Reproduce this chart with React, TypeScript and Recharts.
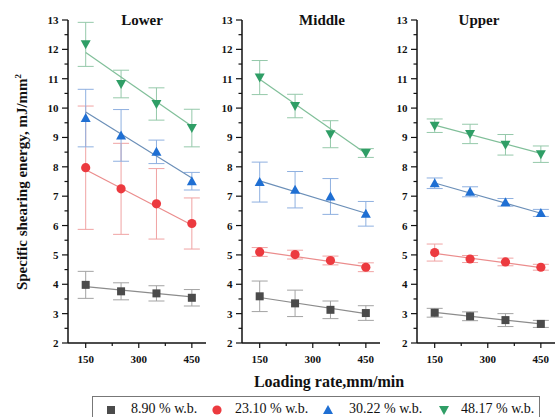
import React from "react";
import { ComposedChart, Scatter, XAxis, YAxis, ErrorBar } from "recharts";

const loadingRates = [150, 250, 350, 450];
const fitEnds = [150, 450];
const seriesNames = ["8.90 % w.b.", "23.10 % w.b.", "30.22 % w.b.", "48.17 % w.b."];
const panelTitles = ["Lower", "Middle", "Upper"];
const xTicks = [150, 225, 300, 375, 450];
const yTicks = [2, 2.5, 3, 3.5, 4, 4.5, 5, 5.5, 6, 6.5, 7, 7.5, 8, 8.5, 9, 9.5, 10, 10.5, 11, 11.5, 12, 12.5, 13];

// rows: 8.90, 23.10, 30.22, 48.17 % w.b.
const lowerMeans = [
  [3.98, 3.76, 3.69, 3.54],
  [7.97, 7.25, 6.74, 6.07],
  [9.66, 9.07, 8.51, 7.51],
  [12.17, 10.82, 10.14, 9.32],
];
const lowerErrors = [
  [0.46, 0.29, 0.26, 0.28],
  [2.1, 1.55, 1.2, 0.87],
  [0.98, 0.88, 0.4, 0.3],
  [0.75, 0.47, 0.55, 0.64],
];
const lowerFits = [
  [3.92, 3.57],
  [7.9, 6.02],
  [9.87, 7.62],
  [11.89, 9.38],
];

const middleMeans = [
  [3.59, 3.35, 3.13, 3.02],
  [5.1, 5.01, 4.81, 4.58],
  [7.48, 7.22, 6.99, 6.4],
  [11.04, 10.07, 9.11, 8.47],
];
const middleErrors = [
  [0.52, 0.45, 0.3, 0.25],
  [0.15, 0.15, 0.15, 0.15],
  [0.68, 0.62, 0.61, 0.42],
  [0.58, 0.4, 0.46, 0.15],
];
const middleFits = [
  [3.55, 3.0],
  [5.12, 4.6],
  [7.52, 6.42],
  [10.98, 8.45],
];

const upperMeans = [
  [3.03, 2.91, 2.78, 2.65],
  [5.08, 4.86, 4.76, 4.58],
  [7.44, 7.15, 6.79, 6.43],
  [9.4, 9.12, 8.75, 8.43],
];
const upperErrors = [
  [0.15, 0.15, 0.22, 0.12],
  [0.29, 0.12, 0.13, 0.1],
  [0.18, 0.17, 0.13, 0.12],
  [0.23, 0.33, 0.35, 0.28],
];
const upperFits = [
  [3.04, 2.65],
  [5.05, 4.57],
  [7.45, 6.42],
  [9.42, 8.46],
];

const markerColors = ["#4b4b4b", "#ec3a3f", "#1f6fd3", "#2f9e66"];
const lineColors = ["#8c8c8c", "#eb8c8c", "#6b8fb8", "#80bf99"];
const errColors = ["#a3a3a3", "#f0a3a3", "#8fb0e0", "#95c9aa"];
const markerKinds = ["square", "circle", "up", "down"];

const FONT = "'Liberation Serif', 'Times New Roman', serif";

function Marker({ kind, color, cx, cy }: any) {
  if (kind === "square") return <rect x={cx - 4} y={cy - 4} width={8} height={8} fill={color} />;
  if (kind === "circle") return <circle cx={cx} cy={cy} r={4.6} fill={color} />;
  if (kind === "up")
    return <polygon points={`${cx},${cy - 5} ${cx + 5},${cy + 4} ${cx - 5},${cy + 4}`} fill={color} />;
  return <polygon points={`${cx},${cy + 5} ${cx + 5},${cy - 4} ${cx - 5},${cy - 4}`} fill={color} />;
}

function YTick(props: any) {
  const { x, y, payload } = props;
  const ax = x + 8;
  const major = Number.isInteger(payload.value);
  return (
    <g>
      <line x1={ax - (major ? 6 : 3.5)} x2={ax} y1={y} y2={y} stroke="#111" strokeWidth={1.2} />
      {major && (
        <text x={ax - 9.5} y={y} textAnchor="end" dominantBaseline="central" fontFamily={FONT} fontWeight="bold" fontSize={11} fill="#111">
          {payload.value}
        </text>
      )}
    </g>
  );
}

function XTick(props: any) {
  const { x, y, payload } = props;
  const ay = y - 8;
  const major = payload.value % 150 === 0;
  return (
    <g>
      <line x1={x} x2={x} y1={ay} y2={ay + (major ? 5 : 3)} stroke="#111" strokeWidth={1.2} />
      {major && (
        <text x={x} y={ay + 16} textAnchor="middle" dominantBaseline="central" fontFamily={FONT} fontWeight="bold" fontSize={11} fill="#111">
          {payload.value}
        </text>
      )}
    </g>
  );
}

function Panel({ plotLeft, means, errors, fits }: any) {
  return (
    <div style={{ position: "absolute", left: plotLeft - 40, top: 0 }}>
      <ComposedChart width={188} height={380} margin={{ top: 20, right: 10, bottom: 0, left: 0 }}>
        <XAxis
          type="number"
          dataKey="x"
          domain={[100, 490]}
          ticks={xTicks}
          interval={0}
          tick={(p: any) => <XTick {...p} />}
          tickLine={false}
          tickSize={0}
          tickMargin={8}
          height={37}
          axisLine={{ stroke: "#111", strokeWidth: 1.5 }}
          allowDataOverflow
        />
        <YAxis
          type="number"
          dataKey="y"
          domain={[2, 13]}
          ticks={yTicks}
          interval={0}
          tick={(p: any) => <YTick {...p} />}
          tickLine={false}
          tickSize={0}
          tickMargin={8}
          width={40}
          axisLine={{ stroke: "#111", strokeWidth: 1.5 }}
          allowDataOverflow
        />
        {fits.map((f: number[], i: number) => (
          <Scatter
            key={`fit-${i}`}
            data={fitEnds.map((x, j) => ({ x, y: f[j] }))}
            line={{ stroke: lineColors[i], strokeWidth: 1.2 }}
            shape={() => <g />}
            isAnimationActive={false}
          />
        ))}
        {means.map((m: number[], i: number) => (
          <Scatter
            key={`pts-${i}`}
            data={loadingRates.map((x, j) => ({ x, y: m[j], e: errors[i][j] }))}
            shape={(p: any) => <Marker kind={markerKinds[i]} color={markerColors[i]} cx={p.cx} cy={p.cy} />}
            isAnimationActive={false}
          >
            <ErrorBar dataKey="e" direction="y" width={8} stroke={errColors[i]} strokeWidth={1} />
          </Scatter>
        ))}
      </ComposedChart>
    </div>
  );
}

// icon centre and text start, relative to the legend box
const legendIconCenter = [18, 124, 235, 351];
const legendTextStart = [38, 142, 256, 368];

export default function App() {
  const titleCenters = [142, 322, 479];
  return (
    <div
      style={{
        position: "absolute",
        left: 0,
        top: 0,
        width: 557,
        height: 417,
        overflow: "hidden",
        background: "#fff",
        fontFamily: FONT,
        color: "#111",
      }}
    >
      <Panel plotLeft={68} means={lowerMeans} errors={lowerErrors} fits={lowerFits} />
      <Panel plotLeft={242} means={middleMeans} errors={middleErrors} fits={middleFits} />
      <Panel plotLeft={417} means={upperMeans} errors={upperErrors} fits={upperFits} />

      {panelTitles.map((t, i) => (
        <div
          key={t}
          style={{
            position: "absolute",
            left: titleCenters[i],
            top: 20,
            transform: "translate(-50%, -50%)",
            fontWeight: "bold",
            fontSize: 15,
            lineHeight: "15px",
            whiteSpace: "nowrap",
          }}
        >
          {t}
        </div>
      ))}

      <div
        style={{
          position: "absolute",
          left: 22,
          top: 182,
          transform: "translate(-50%, -50%) rotate(-90deg)",
          fontWeight: "bold",
          fontSize: 15,
          whiteSpace: "nowrap",
        }}
      >
        Specific shearing energy, mJ/mm<sup style={{ fontSize: 9 }}>2</sup>
      </div>

      <div
        style={{
          position: "absolute",
          left: 329,
          top: 382,
          transform: "translate(-50%, -50%)",
          fontWeight: "bold",
          fontSize: 16,
          whiteSpace: "nowrap",
        }}
      >
        Loading rate,mm/min
      </div>

      <div
        style={{
          position: "absolute",
          left: 92,
          top: 396,
          width: 448,
          height: 26,
          border: "1px solid #777",
          boxSizing: "border-box",
        }}
      >
        {seriesNames.map((name, i) => (
          <React.Fragment key={name}>
            <svg
              width={12}
              height={12}
              style={{ position: "absolute", left: legendIconCenter[i] - 6, top: 7 }}
            >
              <Marker kind={markerKinds[i]} color={markerColors[i]} cx={6} cy={6} />
            </svg>
            <span
              style={{
                position: "absolute",
                left: legendTextStart[i],
                top: 3,
                fontSize: 14,
                lineHeight: "18px",
                whiteSpace: "nowrap",
              }}
            >
              {name}
            </span>
          </React.Fragment>
        ))}
      </div>
    </div>
  );
}
